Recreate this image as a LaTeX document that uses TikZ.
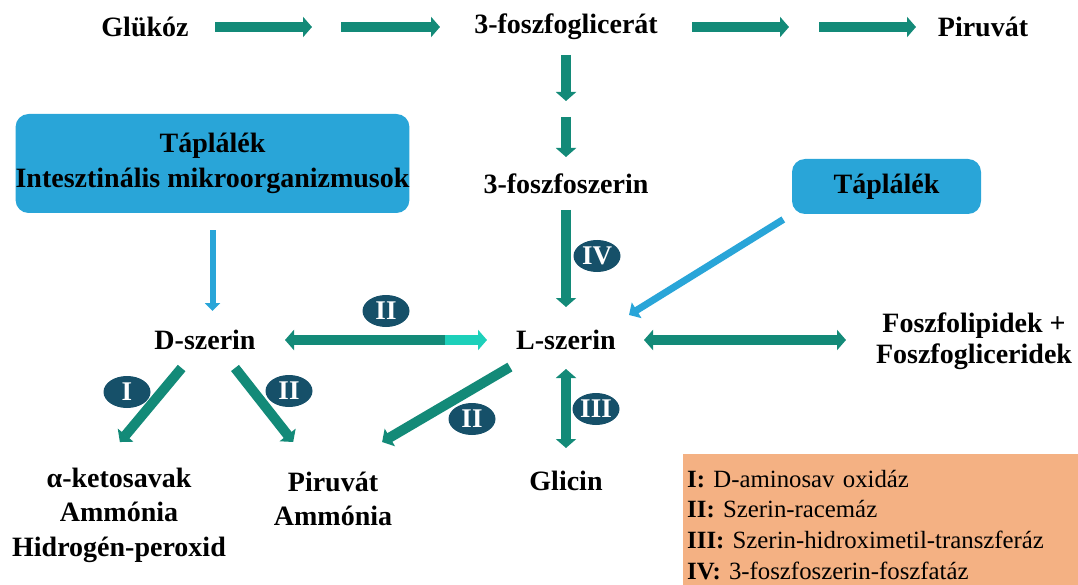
\documentclass[tikz,border=0pt]{standalone}
\usepackage{fontspec}
\setmainfont{Liberation Serif}
\usetikzlibrary{positioning, arrows.meta, shapes.geometric}

\definecolor{arrowteal}{RGB}{19,138,120}
\definecolor{arrowlight}{RGB}{29,208,186}
\definecolor{feedblue}{RGB}{41,165,216}
\definecolor{badgeblue}{RGB}{22,80,105}
\definecolor{legendorange}{RGB}{244,177,131}

\newcommand\figfont{\bfseries\fontsize{28}{34.5}\selectfont}
\newcommand\legfont{\fontsize{24.8}{30.7}\selectfont}

\tikzset{
    lbl/.style={font=\figfont, inner sep=0pt, align=center},
    flow/.style={draw=arrowteal, line width=10pt, -{Triangle[width=20pt,length=9pt]}},
    flowboth/.style={flow, {Triangle[width=20pt,length=9pt]}-{Triangle[width=20pt,length=9pt]}},
    feed/.style={draw=feedblue, line width=6pt, -{Triangle[width=15pt,length=8pt]}},
    foodbox/.style={lbl, fill=feedblue, rounded corners=13pt},
    badge/.style={ellipse, fill=badgeblue, text=white, inner sep=0pt,
                  minimum width=47pt, minimum height=32pt,
                  font=\bfseries\fontsize{27}{27}\selectfont},
}

\begin{document}
\begin{tikzpicture}[x=1pt, y=-1pt]
    \useasboundingbox (0,0) rectangle (1078,585);

    \node[lbl] (glu) at (145,27) {Glükóz};
    \node[lbl] (pgl) at (566,27) {3-foszfoglicerát};
    \node[lbl] (pyr1) at (983,27) {Piruvát};
    \node[lbl] (pser) at (566,184) {3-foszfoszerin};
    \node[lbl] (dser) at (205,340) {D-szerin};
    \node[lbl] (lser) at (566,340) {L-szerin};
    \node[lbl] (lip) at (974,341) {Foszfolipidek +\\[-3.5pt]Foszfogliceridek};
    \node[lbl] (keto) at (119,515) {α-ketosavak\\Ammónia\\Hidrogén-peroxid};
    \node[lbl] (pyr2) at (333,499) {Piruvát\\Ammónia};
    \node[lbl] (gly) at (566,481) {Glicin};

    \node[foodbox, minimum width=393pt, minimum height=99pt] (food1) at (212.5,163.5)
        {Táplálék\\Intesztinális mikroorganizmusok};
    \node[foodbox, minimum width=189pt, minimum height=55pt] (food2) at (886.5,186.5) {Táplálék};

    \node[fill=legendorange, anchor=north west, inner xsep=4pt, inner ysep=0pt,
          text width=387pt, align=left, font=\legfont] (legend) at (683,454)
        {\rule{0pt}{33pt}\textbf{I:} D-aminosav oxidáz\\
         \textbf{II:} Szerin-racemáz\\
         \textbf{III:} Szerin-hidroximetil-transzferáz\\
         \textbf{IV:} 3-foszfoszerin-foszfatáz\rule[-6pt]{0pt}{6pt}};

    \coordinate (s1) at (327,27);
    \coordinate (s2) at (804,27);
    \coordinate (s3) at (566,109);
    \coordinate (m) at (445,340);

    \draw[flow, shorten <=70pt, shorten >=15pt] (glu.center) -- (s1);
    \draw[flow, shorten <=14pt, shorten >=126pt] (s1) -- (pgl.center);
    \draw[flow, shorten <=126pt, shorten >=15pt] (pgl.center) -- (s2);
    \draw[flow, shorten <=15pt, shorten >=67pt] (s2) -- (pyr1.center);
    \draw[flow, shorten <=28pt, shorten >=8pt] (pgl.center) -- (s3);
    \draw[flow, shorten <=8pt, shorten >=27pt] (s3) -- (pser.center);
    \draw[flow, shorten <=26pt, shorten >=33pt] (pser.center) -- (lser.center);
    \draw[flow, shorten >=80pt] (m) -- (dser.center);
    \draw[flow, draw=arrowlight, shorten >=79pt] (m) -- (lser.center);
    \draw[flowboth, shorten <=78pt, shorten >=128pt] (lser.center) -- (lser.center -| lip.center);
    \draw[flowboth, shorten <=29pt, shorten >=33pt] (lser.center) -- (gly.center);
    \draw[flow, shorten <=36.5pt, shorten >=95pt] (dser.center) -- ([xshift=-60pt]keto.center);
    \draw[flow, shorten <=35.6pt, shorten >=72.5pt] ([xshift=8pt]dser.center) -- ([xshift=5pt]pyr2.center);
    \draw[flow, shorten <=53.4pt, shorten >=112.6pt] ([xshift=-10pt]lser.center) -- ([xshift=-48pt]pyr2.center);

    \draw[feed, shorten <=17pt, shorten >=29pt] (food1.south) -- (food1.south |- dser.center);
    \draw[feed, line width=7pt, -{Triangle[width=18pt,length=9pt]}, shorten <=10pt]
        (food2.south west) -- ([xshift=63pt,yshift=25pt]lser.center);

    \node[badge] (bIV) at (597,256) {IV};
    \node[badge] (bIIa) at (386,311) {II};
    \node[badge] (bI) at (127,392) {I};
    \node[badge] (bIIb) at (289,391) {II};
    \node[badge] (bIIc) at (472,419) {II};
    \node[badge] (bIII) at (596,409) {III};
\end{tikzpicture}
\end{document}
